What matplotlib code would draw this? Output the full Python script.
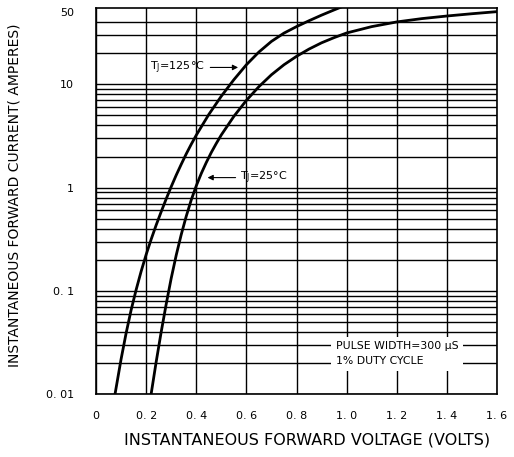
#!/usr/bin/env python3
"""Forward voltage vs forward current curves (datasheet style, log current axis)."""

import matplotlib

matplotlib.use("Agg")
import matplotlib.pyplot as plt

# Curve: TJ = 125 C  (volts, amperes)
v_125 = [0.076, 0.10, 0.12, 0.14, 0.16, 0.18, 0.20, 0.22, 0.24, 0.26, 0.28, 0.30,
         0.32, 0.34, 0.36, 0.38, 0.40, 0.45, 0.50, 0.55, 0.60, 0.65, 0.70, 0.75,
         0.80, 0.85, 0.90, 0.95, 1.00]
i_125 = [0.0100, 0.0217, 0.0387, 0.0649, 0.102, 0.154, 0.224, 0.315, 0.433, 0.583,
         0.776, 1.02, 1.32, 1.68, 2.12, 2.63, 3.22, 5.11, 7.69, 11.1, 15.5, 20.6,
         26.1, 31.4, 36.3, 41.4, 46.9, 52.7, 59.0]

# Curve: TJ = 25 C
v_25 = [0.22, 0.24, 0.26, 0.28, 0.30, 0.32, 0.34, 0.36, 0.38, 0.40, 0.42, 0.44,
        0.46, 0.48, 0.50, 0.55, 0.60, 0.65, 0.70, 0.75, 0.80, 0.85, 0.90, 0.95,
        1.00, 1.10, 1.20, 1.30, 1.40, 1.50, 1.60]
i_25 = [0.0100, 0.0204, 0.0398, 0.0741, 0.132, 0.221, 0.350, 0.527, 0.759, 1.04,
        1.37, 1.75, 2.19, 2.68, 3.24, 4.90, 7.00, 9.51, 12.4, 15.5, 18.7, 22.0,
        25.3, 28.4, 31.5, 36.3, 40.3, 43.4, 46.0, 48.4, 50.7]

x_ticks = [0, 0.2, 0.4, 0.6, 0.8, 1.0, 1.2, 1.4, 1.6]
x_tick_labels = ["0", "0. 2", "0. 4", "0. 6", "0. 8", "1. 0", "1. 2", "1. 4", "1. 6"]
y_ticks = [0.01, 0.1, 1, 10, 50]
y_tick_labels = ["0. 01", "0. 1", "1", "10", "50"]

# horizontal grid: 1..9 in each decade, up to 40 A
y_grid = [m * 10.0**e for e in range(-2, 2) for m in range(1, 10) if m * 10.0**e <= 45]
x_grid = x_ticks

Y_MIN, Y_MAX = 0.01, 55


def main() -> None:
    fig = plt.figure(figsize=(5.14, 4.57), dpi=100)
    ax = fig.add_axes([96 / 514, 63 / 457, 401 / 514, 386 / 457])

    ax.set_yscale("log")
    ax.set_xlim(0, 1.6)
    ax.set_ylim(Y_MIN, Y_MAX)

    for y in y_grid:
        ax.axhline(y, color="black", linewidth=1.0, zorder=1)
    for x in x_grid:
        ax.axvline(x, color="black", linewidth=1.0, zorder=1)

    line_style = dict(color="black", linewidth=2.0, zorder=4, solid_joinstyle="round")
    ax.plot(v_125, i_125, **line_style)
    ax.plot(v_25, i_25, **line_style)

    ax.set_xticks(x_ticks)
    ax.set_xticklabels(x_tick_labels, fontsize=8)
    ax.set_yticks(y_ticks)
    ax.set_yticklabels(y_tick_labels, fontsize=8)
    ax.minorticks_off()
    ax.tick_params(axis="x", length=0, pad=12)
    ax.tick_params(axis="y", length=0, pad=16)

    for spine in ax.spines.values():
        spine.set_linewidth(1.2)

    # curve labels with arrows
    arrow = dict(arrowstyle="-|>", color="black", lw=0.8, mutation_scale=8)
    ax.text(0.435, 14.6, "T$_\\mathregular{J}$=125°C", fontsize=8,
            ha="right", va="center", zorder=5)
    ax.annotate("", xy=(0.578, 14.6), xytext=(0.445, 14.6), arrowprops=arrow, zorder=5)

    ax.text(0.576, 1.25, "T$_\\mathregular{J}$=25°C", fontsize=8,
            ha="left", va="center", zorder=5)
    ax.annotate("", xy=(0.434, 1.25), xytext=(0.568, 1.25), arrowprops=arrow, zorder=5)

    ax.text(0.956, 0.0245, "PULSE WIDTH=300 µS\n1% DUTY CYCLE", fontsize=7.8,
            ha="left", va="center", linespacing=1.65, zorder=3,
            bbox=dict(boxstyle="square,pad=0.4", facecolor="white", edgecolor="none"))

    fig.text(307 / 514, 17 / 457, "INSTANTANEOUS FORWARD VOLTAGE (VOLTS)",
             fontsize=11.5, ha="center", va="center")
    fig.text(15 / 514, 262 / 457, "INSTANTANEOUS FORWARD CURRENT( AMPERES)",
             fontsize=10, ha="center", va="center", rotation=90)

    fig.savefig("out.png", dpi=100)
    plt.close(fig)


if __name__ == "__main__":
    main()
